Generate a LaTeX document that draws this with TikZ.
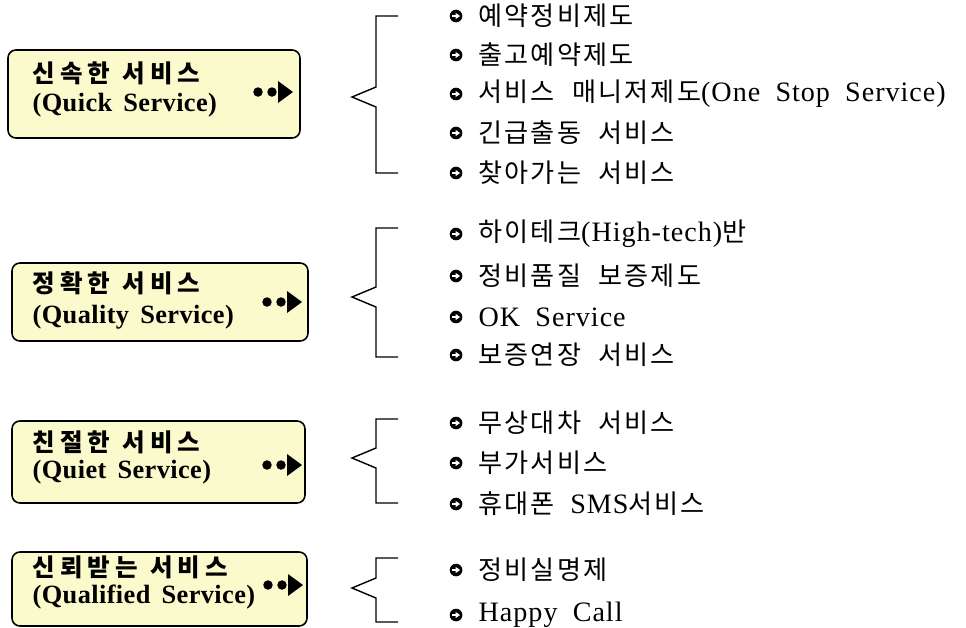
\documentclass[tikz,border=0pt]{standalone}
\usepackage{fontspec}
\setmainfont{Liberation Serif}[WordSpace=1.9,LetterSpace=3.5]
\newfontfamily\subfont{Liberation Serif}[WordSpace=1.6,LetterSpace=1.5]
\newfontfamily\kr{Noto Sans CJK KR}[Scale=0.93,WordSpace=2.2,LetterSpace=8]
\newfontfamily\krb{Noto Sans CJK KR}[Scale=0.93,WordSpace=1.2,LetterSpace=20]
\definecolor{boxfill}{RGB}{250,250,204}

\tikzset{
  bullet/.pic={
    \fill[black] (0,0) circle (3.6pt);
    \fill[white] (-2.2pt,-0.7pt) rectangle (0pt,0.7pt);
    \fill[white] (-0.3pt,-1.8pt) -- (2.3pt,0) -- (-0.3pt,1.8pt) -- cycle;
  }
}

\newcommand\tipmark[2]{%
  \fill (#1-35,#2) circle (2.7pt);
  \fill (#1-21,#2) circle (2.7pt);
  \fill (#1-15,#2-11) -- (#1,#2) -- (#1-15,#2+11) -- cycle;
}
\newcommand\grpbrace[3]{%
  \draw (398,#1) -- (376,#1) -- (376,#2-10) -- (352,#2) -- (376,#2+10) -- (376,#3) -- (398,#3);
}

\begin{document}
\begin{tikzpicture}[
    x=0.02cm, y=-0.02cm, line width=0.8pt,
    svbox/.style={draw, line width=0.9pt, rounded corners=4.5pt, fill=boxfill, inner sep=0pt},
    ttl/.style={anchor=west, inner sep=0pt, font=\fontsize{15}{18}\selectfont\bfseries\krb},
    sub/.style={anchor=west, inner sep=0pt, font=\fontsize{15}{18}\selectfont\bfseries\subfont},
    item/.style={anchor=west, inner sep=0pt, font=\fontsize{16}{19}\selectfont}
]
\useasboundingbox (0,0) rectangle (966,627);

\node[svbox, minimum width=292*0.02cm, minimum height=88*0.02cm] (s1) at (154,94) {};
\node[ttl] (s1t) at (32,73) {신속한 서비스};
\node[sub] (s1s) at (32,105) {(Quick Service)};
\tipmark{293}{92}

\node[svbox, minimum width=296*0.02cm, minimum height=78*0.02cm] (s2) at (160,302) {};
\node[ttl] (s2t) at (32,283) {정확한 서비스};
\node[sub] (s2s) at (32,317) {(Quality Service)};
\tipmark{302}{302}

\node[svbox, minimum width=293*0.02cm, minimum height=82*0.02cm] (s3) at (158.5,462) {};
\node[ttl] (s3t) at (32,442) {친절한 서비스};
\node[sub] (s3s) at (32,472) {(Quiet Service)};
\tipmark{302}{465}

\node[svbox, minimum width=295*0.02cm, minimum height=74*0.02cm] (s4) at (159.5,589) {};
\node[ttl] (s4t) at (32,567) {신뢰받는 서비스};
\node[sub] (s4s) at (32,597) {(Qualified Service)};
\tipmark{303}{585}

\grpbrace{16}{97}{173}
\grpbrace{228}{297}{357}
\grpbrace{419}{458}{503}
\grpbrace{558}{588}{622}

\node[item] (s1a) at (478,16) {\kr 예약정비제도};
\node[item] (s1b) at (478,55) {\kr 출고예약제도};
\node[item] (s1c) at (478,94) {{\kr 서비스 매니저제도}(One Stop Service)};
\node[item] (s1d) at (478,133) {\kr 긴급출동 서비스};
\node[item] (s1e) at (478,173) {\kr 찾아가는 서비스};

\node[item] (s2a) at (478,234) {{\kr 하이테크}(High-tech){\kr 반}};
\node[item] (s2b) at (478,276) {\kr 정비품질 보증제도};
\node[item] (s2c) at (478,317) {OK Service};
\node[item] (s2d) at (478,355) {\kr 보증연장 서비스};

\node[item] (s3a) at (478,423) {\kr 무상대차 서비스};
\node[item] (s3b) at (478,463) {\kr 부가서비스};
\node[item] (s3c) at (478,504) {{\kr 휴대폰} SMS{\kr 서비스}};

\node[item] (s4a) at (478,570) {\kr 정비실명제};
\node[item] (s4b) at (478,615) {Happy Call};

\foreach \n in {s1a,s1b,s1c,s1d,s1e,s2a,s2b,s2c,s2d,s3a,s3b,s3c,s4a,s4b}
  \pic at ([xshift=-12.5pt]\n.west) {bullet};
\end{tikzpicture}
\end{document}
